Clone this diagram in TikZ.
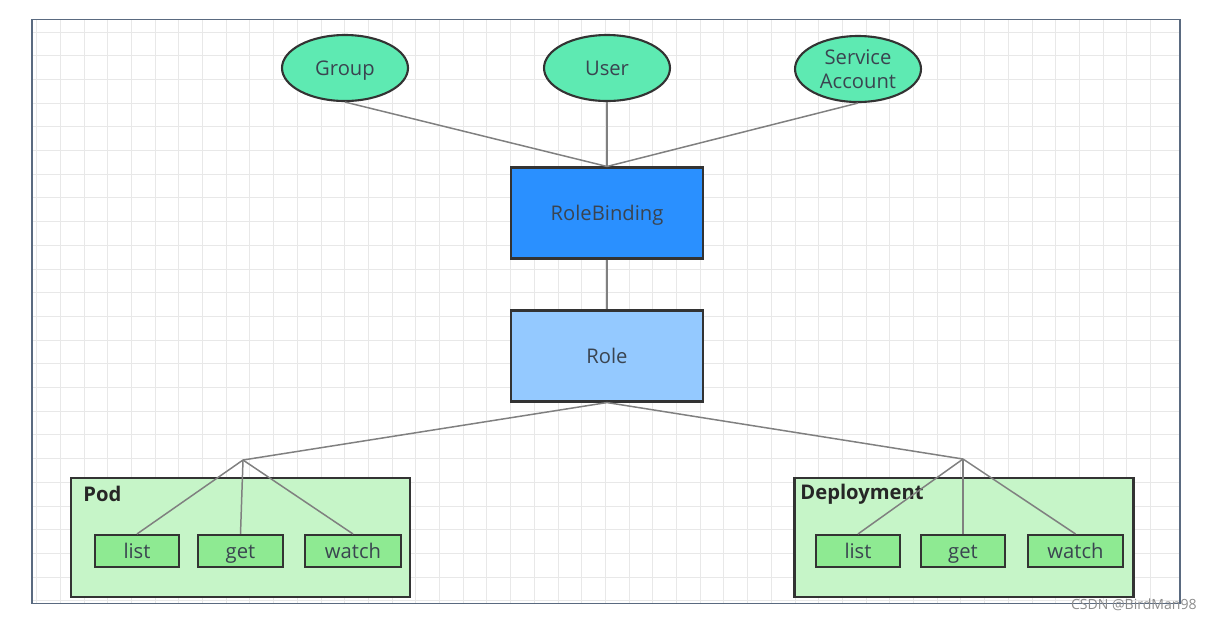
\documentclass[tikz,border=0pt]{standalone}
\usepackage{fontspec}
\setmainfont{Open Sans}
\usetikzlibrary{shapes.geometric}

\definecolor{subjgreen}{HTML}{5EEAB2}
\definecolor{bindblue}{HTML}{2A90FF}
\definecolor{roleblue}{HTML}{94C9FF}
\definecolor{resgreen}{HTML}{C6F5C8}
\definecolor{verbgreen}{HTML}{8EEA92}
\definecolor{edgegray}{HTML}{808080}
\definecolor{textgray}{HTML}{3A4450}
\definecolor{framegray}{HTML}{5A6A80}

\tikzset{
  evenline/.style={text height=1.9ex,text depth=0.3ex},
  subject/.style={draw=black!80,line width=1.2pt,ellipse,fill=subjgreen,text=textgray,
    minimum width=2.52cm,minimum height=1.32cm,align=center,inner sep=0pt,
    font=\fontsize{11.5}{14}\selectfont},
  rulebox/.style={draw=black!80,line width=1.2pt,rectangle,text=textgray,evenline,
    minimum width=3.84cm,minimum height=1.82cm,font=\fontsize{11.5}{13}\selectfont},
  resource/.style={draw=black!80,line width=1.2pt,rectangle,fill=resgreen,
    minimum width=6.78cm,minimum height=2.38cm},
  verb/.style={draw=black!80,line width=1.2pt,rectangle,fill=verbgreen,text=textgray,evenline,
    minimum height=0.64cm,inner sep=0pt,font=\fontsize{11.5}{13}\selectfont},
  reslabel/.style={anchor=west,inner sep=0pt,text=black!85,font=\fontsize{11.5}{13}\selectfont\bfseries},
  link/.style={draw=edgegray,line width=0.85pt}
}

\begin{document}
\begin{tikzpicture}[x=0.02cm,y=-0.02cm]
  \useasboundingbox (0,0) rectangle (1212,620);

  % grid and frame
  \foreach \gx in {0,...,47}
    \draw[black!9,line width=0.5pt] (36.6+23.7*\gx,19.5) -- (36.6+23.7*\gx,603.5);
  \foreach \gy in {0,...,24}
    \draw[black!9,line width=0.5pt] (32,32+23.7*\gy) -- (1180,32+23.7*\gy);
  \draw[draw=framegray,line width=0.8pt] (32,19.5) rectangle (1180,603.5);

  % subjects
  \node[subject,evenline] (group) at (345,68) {Group};
  \node[subject,evenline] (user) at (607,68) {User};
  \node[subject] (sa) at (858,69) {Service\\Account};

  % binding and role
  \node[rulebox,fill=bindblue] (rb) at (607,213) {RoleBinding};
  \node[rulebox,fill=roleblue] (role) at (607,356) {Role};

  \foreach \from in {group,user,sa}
    \draw[link] (\from.south) -- (rb.north);
  \draw[link] (rb) -- (role);

  % Pod
  \node[resource] (pod) at (240.5,537.5) {};
  \node[reslabel] (podlbl) at (83,494) {Pod};
  \node[verb,minimum width=1.68cm] (podlist) at (137,551) {list};
  \node[verb,minimum width=1.70cm] (podget) at (240.5,551) {get};
  \node[verb,minimum width=1.92cm] (podwatch) at (353,551) {watch};
  \coordinate (podj) at (243,460);
  \draw[link] (role.south) -- (podj);
  \foreach \to in {podlist,podget,podwatch}
    \draw[link] (podj) -- (\to.north);

  % Deployment
  \node[resource] (deploy) at (964,537.5) {};
  \node[reslabel] (deploylbl) at (800,494) {Deployment};
  \node[verb,minimum width=1.68cm] (deplist) at (858,551) {list};
  \node[verb,minimum width=1.68cm] (depget) at (963,551) {get};
  \node[verb,minimum width=1.90cm] (depwatch) at (1075.5,551) {watch};
  \coordinate (deployj) at (963,459);
  \draw[link] (role.south) -- (deployj);
  \foreach \to in {deplist,depget,depwatch}
    \draw[link] (deployj) -- (\to.north);

  \node[anchor=east,inner sep=0pt,text=black!45,font=\fontsize{8}{9}\selectfont] (mark) at (1197,605) {CSDN @BirdMan98};
\end{tikzpicture}
\end{document}
